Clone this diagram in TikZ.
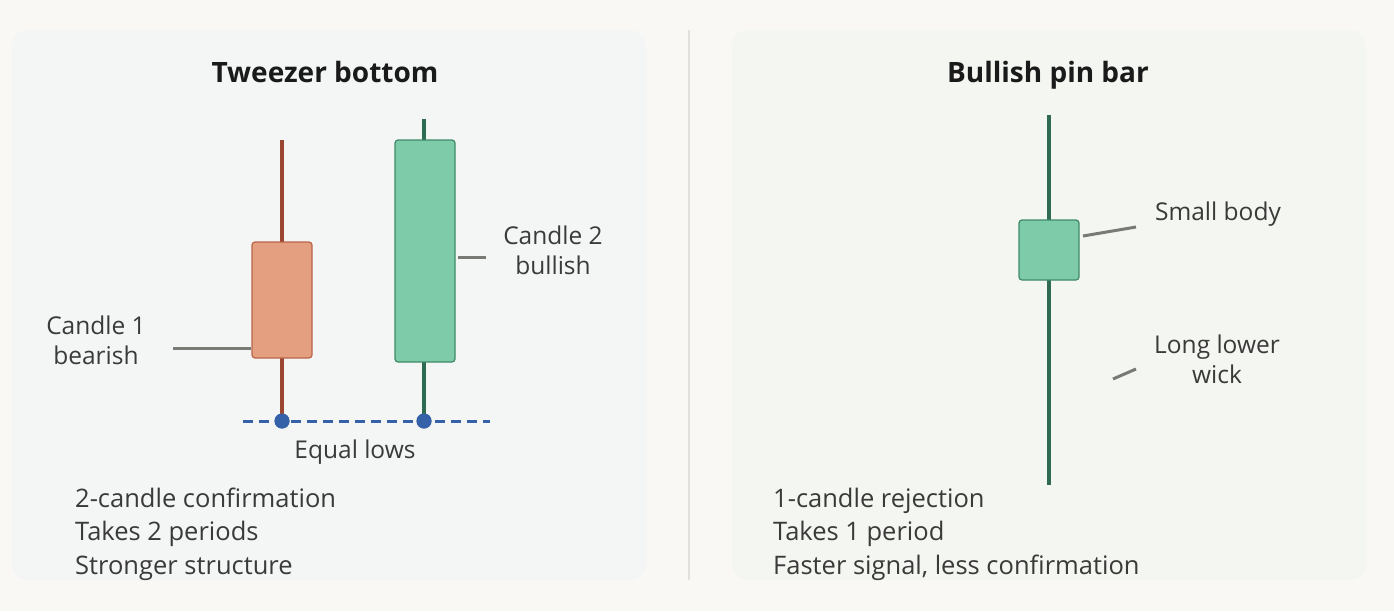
\documentclass[tikz,border=0pt]{standalone}
\usepackage{fontspec}
\setmainfont{Open Sans}
\definecolor{pagebg}{HTML}{F9F8F5}
\definecolor{panelL}{HTML}{F4F6F6}
\definecolor{panelR}{HTML}{F4F6F2}
\definecolor{divider}{HTML}{E2E0DA}
\definecolor{bearfill}{HTML}{E49E80}
\definecolor{bearedge}{HTML}{B8654A}
\definecolor{bearwick}{HTML}{9A4630}
\definecolor{bullfill}{HTML}{7DCBA8}
\definecolor{bulledge}{HTML}{3F8A68}
\definecolor{bullwick}{HTML}{2E6B52}
\definecolor{lowblue}{HTML}{3461A8}
\definecolor{leader}{HTML}{7A7A75}
\definecolor{txt}{HTML}{3A3A38}
\definecolor{ttl}{HTML}{1A1A1A}
\begin{document}
\begin{tikzpicture}[x=1pt,y=-1pt,
  titletxt/.style={font=\fontsize{28}{32}\selectfont\bfseries, text=ttl, inner sep=0pt, anchor=base},
  bodytxt/.style={font=\fontsize{24.5}{30}\selectfont, text=txt, inner sep=0pt, anchor=base, align=center},
  listtxt/.style={font=\fontsize{25.5}{33.5}\selectfont, text=txt, inner sep=0pt, anchor=base west, align=left},
  bearbody/.style={draw=bearedge, fill=bearfill, line width=1.2pt, rounded corners=3pt, minimum width=60pt, inner sep=0pt},
  bullbody/.style={draw=bulledge, fill=bullfill, line width=1.2pt, rounded corners=3pt, minimum width=60pt, inner sep=0pt},
  wickbear/.style={draw=bearwick, line width=4pt},
  wickbull/.style={draw=bullwick, line width=4pt},
  leadline/.style={draw=leader, line width=3pt},
  lowdot/.style={circle, fill=lowblue, minimum size=15pt, inner sep=0pt},
  lowline/.style={draw=lowblue, line width=3pt, dash pattern=on 10pt off 6pt}
]
\useasboundingbox[fill=pagebg] (0,0) rectangle (1394,611);
% panels
\fill[panelL, rounded corners=16pt] (12,30) rectangle (646,580);
\fill[panelR, rounded corners=16pt] (732,30) rectangle (1366,580);
\draw[divider, line width=2pt] (689,30) -- (689,580);

% ---------- Left panel ----------
\node[titletxt] (tleft) at (325,82) {Tweezer bottom};

\coordinate (lowL) at (243,421);
\coordinate (lowR) at (490,421);
\draw[lowline] (lowL) -- (lowR);

\coordinate (c1top) at (282,140);
\coordinate (c2top) at (424,119);
\node[lowdot] (d1) at (282,421) {};
\node[lowdot] (d2) at (424,421) {};
\draw[wickbear] (c1top) -- (d1.center);
\draw[wickbull] (c2top) -- (d2.center);
\node[lowdot] at (282,421) {};
\node[lowdot] at (424,421) {};

\node[bearbody, minimum height=116pt] (c1) at (282,300) {};
\node[bullbody, minimum height=222pt] (c2) at (425,251) {};

\node[bodytxt] (l1) at (96,364) {Candle 1\\bearish};
\coordinate (l1end) at (173,348);
\draw[leadline] (l1end) -- (c1.west |- l1end);

\node[bodytxt] (l2) at (553,274) {Candle 2\\bullish};
\coordinate (l2s) at (458,257);
\coordinate (l2e) at (486,257);
\draw[leadline] (l2s) -- (l2e);

\node[bodytxt] (eq) at (355,458) {Equal lows};

\node[listtxt] (listL) at (75,574) {2-candle confirmation\\Takes 2 periods\\Stronger structure};

% ---------- Right panel ----------
\node[titletxt] (tright) at (1048,82) {Bullish pin bar};

\coordinate (ptop) at (1049,115);
\coordinate (pbot) at (1049,485);
\draw[wickbull] (ptop) -- (pbot);
\node[bullbody, minimum height=60pt] (pb) at (1049,250) {};

\node[bodytxt] (sb) at (1218,220) {Small body};
\coordinate (sbs) at (1083,236);
\coordinate (sbe) at (1136,227);
\draw[leadline] (sbs) -- (sbe);

\node[bodytxt] (lw) at (1217,383) {Long lower\\wick};
\coordinate (lws) at (1113,379);
\coordinate (lwe) at (1136,369);
\draw[leadline] (lws) -- (lwe);

\node[listtxt] (listR) at (773,574) {1-candle rejection\\Takes 1 period\\Faster signal, less confirmation};
\end{tikzpicture}
\end{document}
